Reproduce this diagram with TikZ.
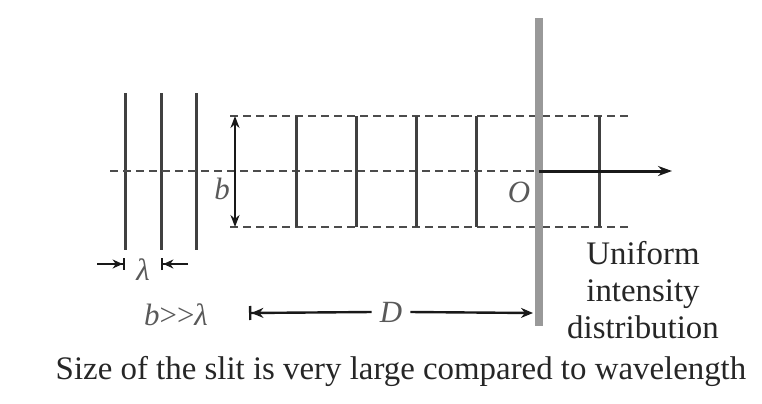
\documentclass[tikz,border=0pt]{standalone}
\usepackage{fontspec}
\setmainfont{Liberation Serif}
\usetikzlibrary{arrows.meta}
\begin{document}
\begin{tikzpicture}[x=1bp,y=-1bp,
  wave/.style={draw=black!75,line width=3bp},
  guide/.style={draw=black!70,line width=1.6bp,dash pattern=on 8bp off 5bp},
  dim/.style={draw=black!90,line width=2.4bp},
  lbl/.style={text=black!65,font=\fontsize{31}{33}\selectfont\itshape,inner sep=0pt},
  txt/.style={text=black!85,font=\fontsize{33}{37}\selectfont,inner sep=0pt,align=center}]
\useasboundingbox (0,0) rectangle (762,403);
% incident waves
\foreach \x/\n in {125/w1,161/w2,196/w3}
  \draw[wave] (\x,93) coordinate (\n t) -- (\x,250) coordinate (\n b);
% guide lines
\coordinate (cl) at (110,171);
\coordinate (cr) at (539,171);
\coordinate (tl) at (230,116);
\coordinate (tr) at (630,116);
\coordinate (bl) at (230,227);
\coordinate (br) at (630,227);
\draw[guide] (cl) -- (cr);
\draw[guide] (tl) -- (tr);
\draw[guide] (bl) -- (br);
% diffracted wavefronts
\foreach \x in {296,356,416,476,599}
  \draw[wave] (\x,116) -- (\x,227);
% screen
\coordinate (st) at (539,18);
\coordinate (sb) at (539,326);
\draw[draw=black!40,line width=8bp] (st) -- (sb);
% axis
\coordinate (ax) at (672,171);
\draw[dim,line width=3bp,-{Stealth[length=14bp,width=10bp]}] (cr) -- (ax);
\node[lbl] (O) at (519,192) {O};
% b arrow
\coordinate (bt) at (235,116);
\coordinate (bb) at (235,227);
\draw[dim,{Stealth[length=12bp,width=9bp]}-{Stealth[length=12bp,width=9bp]}] (bt) -- (bb);
\node[lbl] (b) at (222,189) {b};
% lambda
\coordinate (l1) at (97,264);
\coordinate (l2) at (188,264);
\draw[dim,-{Stealth[length=10bp,width=9bp]Bar[width=12bp]}] (l1) -- (w1b |- l1);
\draw[dim,-{Stealth[length=10bp,width=9bp]Bar[width=12bp]}] (l2) -- (w2b |- l2);
\node[lbl] (lam) at (143,270) {λ};
% b >> lambda
\node[lbl] (cond) at (176,315) {b\upshape{>}{>}\itshape λ};
% D arrow
\coordinate (dl) at (249,313);
\coordinate (dr) at (533,313);
\node[lbl] (D) at (391,312) {D};
\draw[dim,-{Stealth[length=12bp,width=10bp]Bar[width=14bp]}] (D.west) ++(-8,0) coordinate (dm1) -- (dl);
\draw[dim,-{Stealth[length=12bp,width=10bp]}] (D.east) ++(8,0) coordinate (dm2) -- (dr);
% text
\node[txt] (uni) at (643,290) {Uniform\\intensity\\distribution};
\node[txt] (cap) at (401,371) {Size of the slit is very large compared to wavelength};
\end{tikzpicture}
\end{document}
